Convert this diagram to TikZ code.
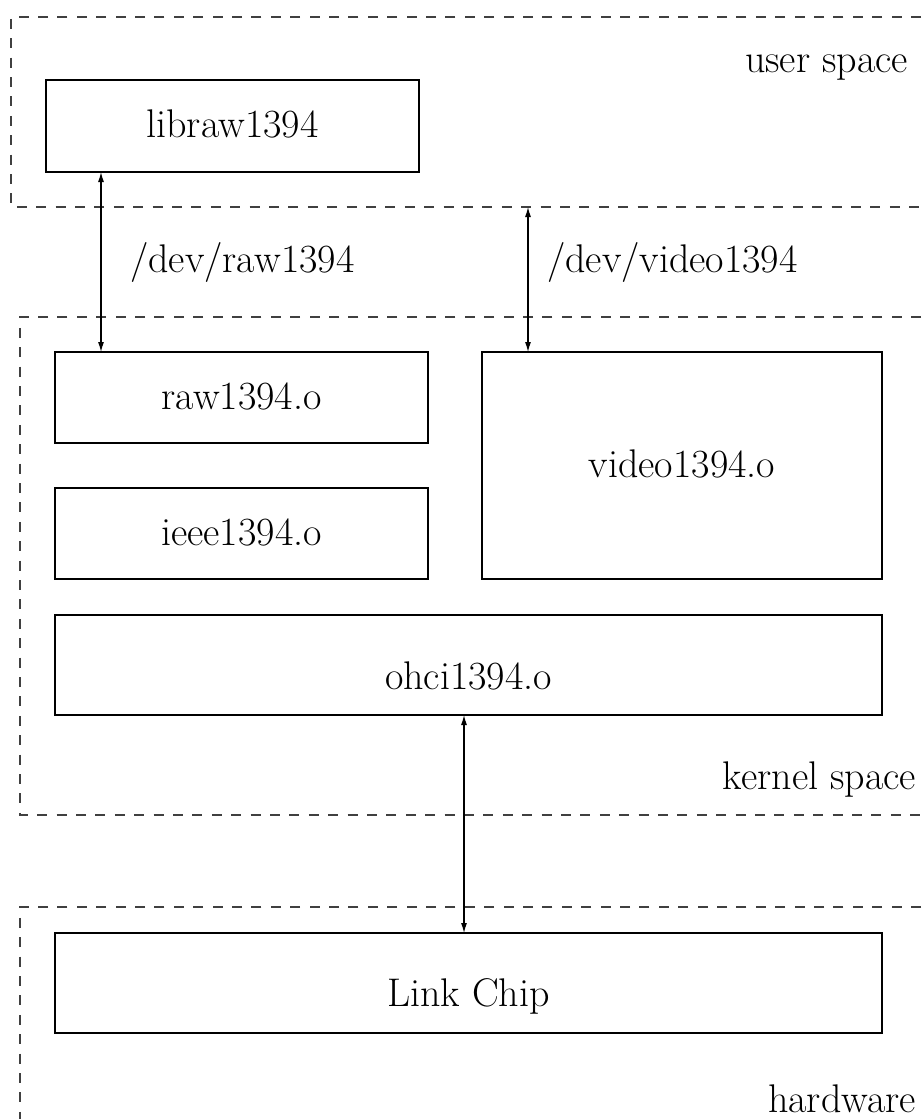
\documentclass[tikz,border=0pt]{standalone}
\usetikzlibrary{arrows.meta}
\begin{document}
\begin{tikzpicture}[x=0.5pt,y=-0.5pt,
  box/.style={draw=black, line width=0.7pt, rectangle, inner sep=0pt, outer sep=0pt,
    font=\fontsize{20}{24}\selectfont, text depth=0pt},
  region/.style={draw=black!75, line width=0.6pt, dash pattern=on 5pt off 4.7pt},
  lbl/.style={inner sep=0pt, outer sep=0pt, font=\fontsize{20}{24}\selectfont},
  arr/.style={line width=0.55pt, {Latex[length=5pt,width=3pt]}-{Latex[length=5pt,width=3pt]}}
]
\useasboundingbox (0,0) rectangle (921,1119);
% regions
\draw[region] (921,17) -- (11,17) -- (11,207) -- (921,207);
\draw[region] (921,317) -- (20,317) -- (20,815) -- (921,815);
\draw[region] (921,907) -- (20,907) -- (20,1125);
\coordinate (usb) at (528,207);
\node[lbl, anchor=base east] (ul) at (908,72) {user space};
\node[lbl, anchor=base east] (kl) at (916,789) {kernel space};
\node[lbl, anchor=base east] (hl) at (916,1112) {hardware};
% boxes
\node[box, minimum width=186.5pt, minimum height=46pt, text height=11pt] (libraw) at (232.5,126) {libraw1394};
\node[box, minimum width=186.5pt, minimum height=45.5pt, text height=11.5pt] (raw) at (241.5,397.5) {raw1394.o};
\node[box, minimum width=186.5pt, minimum height=45.5pt, text height=11.5pt] (ieee) at (241.5,533.5) {ieee1394.o};
\node[box, minimum width=200pt, minimum height=113.5pt, text height=11.5pt] (video) at (682,465.5) {video1394.o};
\node[box, minimum width=413.5pt, minimum height=50pt, text height=24pt] (ohci) at (468.5,665) {ohci1394.o};
\node[box, minimum width=413.5pt, minimum height=50pt, text height=23pt] (link) at (468.5,983) {Link Chip};
% connectors
\draw[arr] ([xshift=27.5pt]libraw.south west) -- node[lbl, anchor=base west, xshift=14.5pt, yshift=-5pt] (devraw) {/dev/raw1394} ([xshift=23pt]raw.north west);
\draw[arr] (usb) -- node[lbl, anchor=base west, xshift=9.5pt, yshift=3.75pt] (devvid) {/dev/video1394} (usb |- video.north);
\draw[arr] ([xshift=-2.25pt]ohci.south) -- ([xshift=-2.25pt]link.north);
\end{tikzpicture}
\end{document}
